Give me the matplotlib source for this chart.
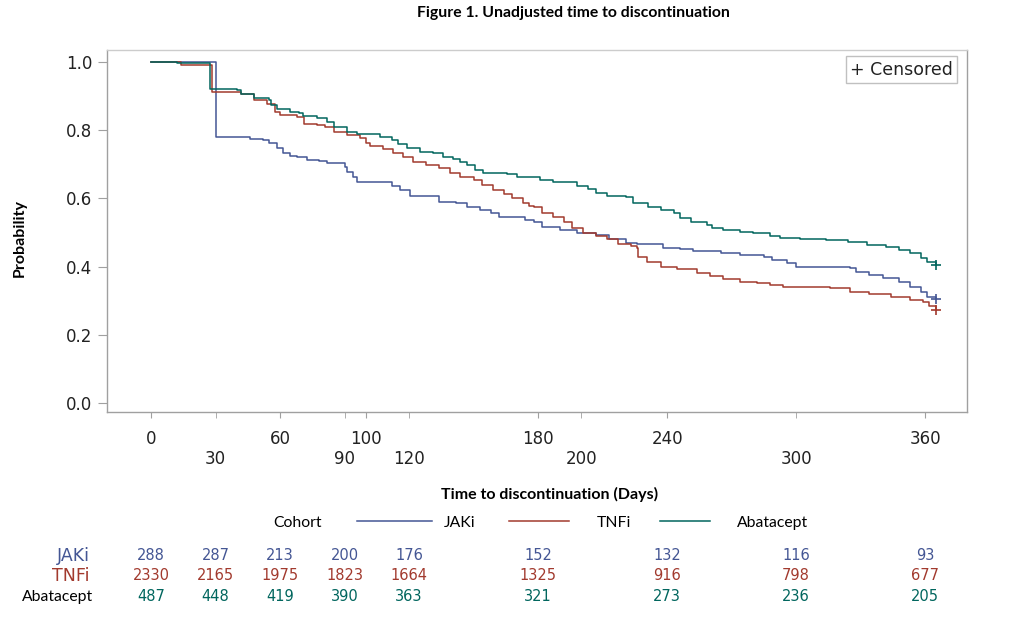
import numpy as np
import matplotlib
matplotlib.use("Agg")
from matplotlib import pyplot as plt
from matplotlib.lines import Line2D
from matplotlib.transforms import blended_transform_factory

# --- data ---
jaki_t = [0, 30, 46, 52, 55, 58.5, 61.5, 64.7, 68, 72.5, 78, 82, 90, 91, 94, 96, 112, 116, 120.5,
          134, 142, 147, 153, 158, 162, 174, 178, 182, 190, 198, 207, 213, 221, 226, 238, 246, 252,
          265, 274, 285, 289, 296, 300, 325, 328, 334, 340.5, 348, 353, 358, 361, 365]
jaki_p = [1.0, 0.779, 0.773, 0.771, 0.762, 0.748, 0.733, 0.724, 0.721, 0.713, 0.710, 0.704, 0.692,
          0.677, 0.663, 0.648, 0.636, 0.625, 0.607, 0.589, 0.587, 0.575, 0.566, 0.557, 0.545, 0.537,
          0.531, 0.516, 0.507, 0.499, 0.493, 0.481, 0.469, 0.466, 0.455, 0.452, 0.446, 0.440, 0.434,
          0.428, 0.419, 0.411, 0.399, 0.396, 0.384, 0.375, 0.366, 0.355, 0.340, 0.326, 0.311, 0.305]

tnfi_t = [0, 14, 28.5, 42, 48, 54, 57.7, 60, 68, 71, 77, 81, 85, 91, 97, 100, 102, 108, 112.6, 117,
          122, 128, 134, 139, 143.7, 150, 154, 159, 164, 168, 173, 176, 178, 182, 187, 192, 196, 201,
          207, 212, 217, 223, 226, 226.5, 230.6, 237, 244.6, 254, 260, 266, 274, 282, 288, 294, 316,
          325, 334, 344, 353, 359, 362, 365]
tnfi_p = [1.0, 0.99, 0.913, 0.906, 0.888, 0.876, 0.852, 0.843, 0.838, 0.818, 0.815, 0.809, 0.795,
          0.786, 0.777, 0.762, 0.754, 0.745, 0.733, 0.721, 0.707, 0.698, 0.689, 0.674, 0.663, 0.654,
          0.639, 0.625, 0.613, 0.601, 0.587, 0.578, 0.575, 0.557, 0.545, 0.531, 0.513, 0.498, 0.490,
          0.481, 0.466, 0.460, 0.455, 0.428, 0.413, 0.399, 0.393, 0.381, 0.372, 0.364, 0.355, 0.352,
          0.346, 0.340, 0.337, 0.326, 0.320, 0.311, 0.302, 0.296, 0.284, 0.273]

abat_t = [0, 12, 27.4, 40, 42, 48, 55, 56, 58.5, 64.6, 69, 70.9, 77, 82, 85, 91, 96, 106.5, 112, 115,
          119, 125, 131, 136, 140.5, 143.7, 147, 150.7, 154.4, 165.6, 170, 181, 187, 198, 203, 207,
          212, 221, 224, 231, 237, 243, 246, 251, 258.6, 261, 266, 274, 280, 288, 292.6, 302, 314, 324,
          333, 342, 348, 353, 358, 361, 365]
abat_p = [1.0, 0.997, 0.92, 0.918, 0.906, 0.894, 0.887, 0.874, 0.862, 0.853, 0.850, 0.841, 0.835,
          0.824, 0.809, 0.795, 0.789, 0.780, 0.771, 0.759, 0.748, 0.736, 0.733, 0.721, 0.716, 0.707,
          0.698, 0.683, 0.674, 0.672, 0.663, 0.654, 0.648, 0.636, 0.628, 0.616, 0.607, 0.604, 0.587,
          0.575, 0.566, 0.557, 0.543, 0.531, 0.522, 0.513, 0.507, 0.501, 0.498, 0.490, 0.484, 0.481,
          0.478, 0.472, 0.463, 0.457, 0.449, 0.440, 0.425, 0.413, 0.405]

risk_times = [0, 30, 60, 90, 120, 180, 240, 300, 360]
risk_jaki = [288, 287, 213, 200, 176, 152, 132, 116, 93]
risk_tnfi = [2330, 2165, 1975, 1823, 1664, 1325, 916, 798, 677]
risk_abat = [487, 448, 419, 390, 363, 321, 273, 236, 205]

xticks_upper = [0, 60, 100, 180, 240, 360]
xticks_lower = [30, 90, 120, 200, 300]
yticks = [0.0, 0.2, 0.4, 0.6, 0.8, 1.0]

c_jaki = "#445694"
c_tnfi = "#A23A2E"
c_abat = "#01665E"
grey = "#a0a0a0"
calib = ["Lato", "DejaVu Sans"]

fig = plt.figure(figsize=(10.13, 6.21), dpi=100)
ax = fig.add_axes([0.1056, 0.3366, 0.849, 0.583])

for t, p, c in [(jaki_t, jaki_p, c_jaki), (tnfi_t, tnfi_p, c_tnfi), (abat_t, abat_p, c_abat)]:
    ax.step(t, p, where="post", color=c, lw=1.1)
    ax.plot(t[-1], p[-1], marker="+", color=c, ms=7, mew=1.2)

ax.set_xlim(-20.5, 379.5)
ax.set_ylim(-0.026, 1.035)

# staggered x tick labels: upper row on major ticks, lower row on minor ticks
ax.set_xticks(xticks_upper, [str(v) for v in xticks_upper])
ax.set_xticks(xticks_lower, [str(v) for v in xticks_lower], minor=True)
ax.set_yticks(yticks, ["%.1f" % v for v in yticks])
ax.tick_params(axis="x", which="major", length=4, pad=9, colors=grey, labelcolor="#222", labelsize=12)
ax.tick_params(axis="x", which="minor", length=4, pad=23.5, colors=grey, labelcolor="#222", labelsize=12)
ax.tick_params(axis="y", length=6.5, pad=4, colors=grey, labelcolor="#222", labelsize=12)
for s in ax.spines.values():
    s.set_color(grey)
    s.set_linewidth(1.0)
ax.spines["top"].set_color("#cccccc")

ax.text(0.9835, 0.97, "+ Censored", transform=ax.transAxes, ha="right", va="top", fontsize=12.5,
        color="#222", bbox=dict(boxstyle="square,pad=0.25", fc="white", ec="#c0c0c0", lw=1))

fig.text(0.566, 0.979, "Figure 1. Unadjusted time to discontinuation", ha="center", va="center",
         fontsize=11.3, fontweight="bold", family=calib)
fig.text(0.0197, 0.617, "Probability", rotation=90, ha="center", va="center",
         fontsize=11.5, fontweight="bold", family=calib)
fig.text(0.543, 0.203, "Time to discontinuation (Days)", ha="center", va="center",
         fontsize=11.5, fontweight="bold", family=calib)

# cohort legend row
ly = 0.158
fig.text(0.294, ly, "Cohort", ha="center", va="center", fontsize=11.3, family=calib)
fig.text(0.454, ly, "JAKi", ha="center", va="center", fontsize=11.3, family=calib)
fig.text(0.606, ly, "TNFi", ha="center", va="center", fontsize=11.3, family=calib)
fig.text(0.763, ly, "Abatacept", ha="center", va="center", fontsize=11.3, family=calib)
for x0, x1, c in [(0.352, 0.426, c_jaki), (0.502, 0.562, c_tnfi), (0.652, 0.701, c_abat)]:
    fig.add_artist(Line2D([x0, x1], [0.161, 0.161], color=c, lw=1.1, transform=fig.transFigure))

# numbers at risk
tr = blended_transform_factory(ax.transData, fig.transFigure)
for vals, c, y in [(risk_jaki, c_jaki, 0.1047), (risk_tnfi, c_tnfi, 0.0725), (risk_abat, c_abat, 0.040)]:
    for t, v in zip(risk_times, vals):
        ax.text(t, y, str(v), transform=tr, ha="center", va="center", fontsize=10.5, color=c, clip_on=False)

fig.text(0.0888, 0.1047, "JAKi", ha="right", va="center", fontsize=12.5, color=c_jaki)
fig.text(0.0888, 0.0725, "TNFi", ha="right", va="center", fontsize=12.5, color=c_tnfi)
fig.text(0.0217, 0.038, "Abatacept", ha="left", va="center", fontsize=11.3, family=calib)

fig.savefig("out.png", dpi=100)
